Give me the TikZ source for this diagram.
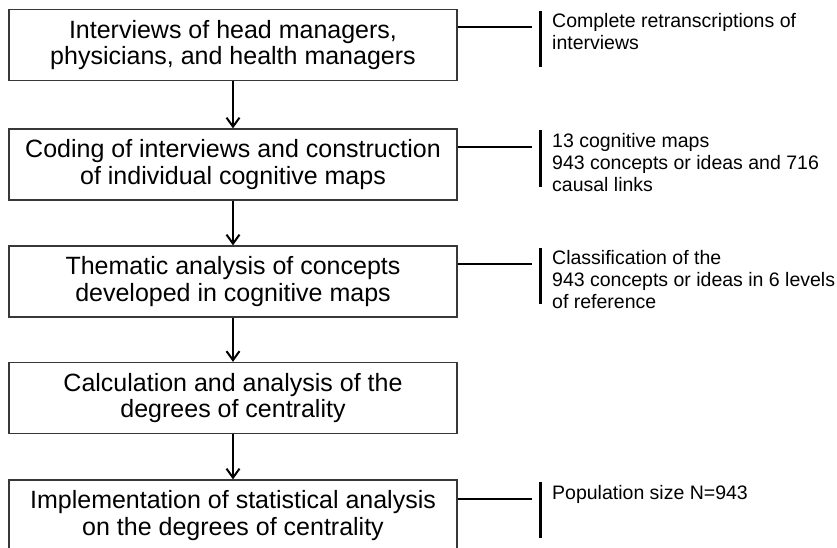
\documentclass[tikz,border=0pt]{standalone}
\usepackage{fontspec}
\setmainfont{Liberation Sans}
\usetikzlibrary{arrows.meta}

\begin{document}
\begin{tikzpicture}[x=1pt,y=1pt,
    stepbox/.style={draw=black!78,line width=1.3pt,minimum width=448pt,minimum height=71pt,
        inner sep=0pt,align=center,font=\fontsize{25}{26.5}\selectfont},
    flow/.style={line width=2pt,-{Straight Barb[length=9pt,width=13pt]}},
    tick/.style={line width=2pt},
    bar/.style={line width=3pt},
    note/.style={anchor=north west,inner sep=0pt,align=left,font=\fontsize{19.5}{22}\selectfont}]
    \useasboundingbox (0,0) rectangle (837,-548);
    \node[stepbox] (interviews) at (233,-45) {Interviews of head managers,\\physicians, and health managers};
    \node[stepbox] (coding) at (233,-164.5) {Coding of interviews and construction\\of individual cognitive maps};
    \node[stepbox] (thematic) at (233,-281.5) {Thematic analysis of concepts\\developed in cognitive maps};
    \node[stepbox] (calc) at (233,-398) {Calculation and analysis of the\\degrees of centrality};
    \node[stepbox] (stats) at (233,-515.5) {Implementation of statistical analysis\\on the degrees of centrality};
    \draw[flow] (interviews) -- (coding);
    \draw[flow] (coding) -- (thematic);
    \draw[flow] (thematic) -- (calc);
    \draw[flow] (calc) -- (stats);
    % side notes
    \coordinate (t1) at (532,-27);
    \coordinate (t2) at (532,-147);
    \coordinate (t3) at (532,-264);
    \coordinate (t5) at (532,-499);
    \draw[tick] (interviews.east |- t1) -- (t1);
    \draw[tick] (coding.east |- t2) -- (t2);
    \draw[tick] (thematic.east |- t3) -- (t3);
    \draw[tick] (stats.east |- t5) -- (t5);
    \draw[bar] (540,-11.5) -- (540,-67.5);
    \draw[bar] (540,-130.5) -- (540,-186.5);
    \draw[bar] (540,-247.5) -- (540,-303.5);
    \draw[bar] (540,-481.5) -- (540,-537.5);
    \node[note] (retrans) at (552,-13.5) {Complete retranscriptions of\\interviews};
    \node[note] (maps) at (552,-133.5) {13 cognitive maps\\943 concepts or ideas and 716\\causal links};
    \node[note] (classif) at (552,-250.5) {Classification of the\\943 concepts or ideas in 6 levels\\of reference};
    \node[note] (popul) at (552,-485.5) {Population size N=943};
\end{tikzpicture}
\end{document}
